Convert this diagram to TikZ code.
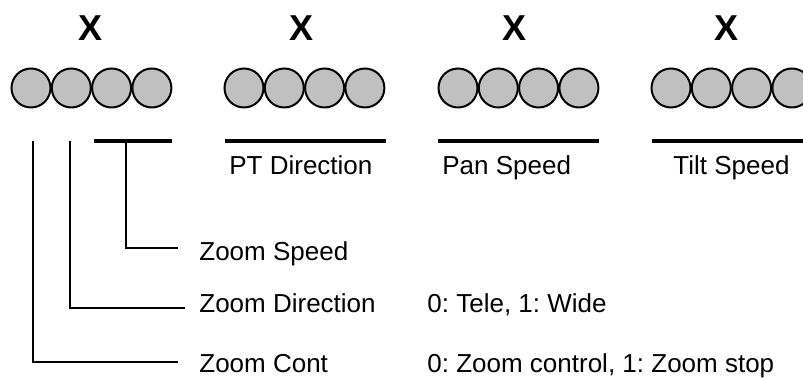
\documentclass[tikz,border=0pt]{standalone}
\usepackage{fontspec}
\setmainfont{Liberation Sans}
\usetikzlibrary{positioning}

\definecolor{bitgray}{RGB}{192,192,192}
\frenchspacing

\begin{document}
\begin{tikzpicture}[
    x=0.5pt, y=-0.5pt,
    % GLOBAL CFG
    font=\fontsize{13}{15}\selectfont,
    % Styles
    bit/.style={% For the single bits
        circle,
        draw,
        line width=1pt,
        fill=bitgray,
        minimum size=19.5pt,
        inner sep=0pt,
        },
    bytemark/.style={% The X above every byte
        font=\fontsize{18}{20}\selectfont\bfseries,
        inner sep=0pt,
        anchor=base,
        },
    mylabel/.style={% Field names and values
        inner sep=0pt,
        anchor=base west,
        },
    field/.style={% Bars under a group of bits
        line width=2pt,
        },
    lead/.style={% Leader lines down to the names
        line width=1pt,
        },
    ]

    \clip (0,0) rectangle (803,378);

%Start drawing the thing...
    % Draw the four bytes
    \foreach \g/\cx/\xx in {1/31/91, 2/244/302, 3/458/514, 4/671/726}{
        \node [bytemark] (x\g) at (\xx,41) {X};
        \foreach \b in {1,...,4}{
            \node [bit] (b\g\b) at ({\cx+40.3*(\b-1)},88) {};
        }
    }

    % Bars under the fields
    \coordinate (zsp_a) at (94,141);  \coordinate (zsp_b) at (172,141);
    \coordinate (ptd_a) at (225,141); \coordinate (ptd_b) at (386,141);
    \coordinate (pan_a) at (438,141); \coordinate (pan_b) at (599,141);
    \coordinate (tlt_a) at (652,141); \coordinate (tlt_b) at (812,141);

    \draw [field] (zsp_a) -- (zsp_b);
    \draw [field] (ptd_a) -- (ptd_b);
    \draw [field] (pan_a) -- (pan_b);
    \draw [field] (tlt_a) -- (tlt_b);

    % Field names
    \node [mylabel] (ptd) at (229,175) {PT Direction};
    \node [mylabel] (pan) at (442,175) {Pan Speed};
    \node [mylabel] (tlt) at (673,175) {Tilt Speed};

    % Zoom bits
    \node [mylabel] (zsp) at (199,261) {Zoom Speed};
    \node [mylabel] (zdir) at (199,313) {Zoom Direction};
    \node [mylabel] (zcont) at (199,373) {Zoom Cont};

    \node [mylabel] (zdir_val) at (427,313) {0: Tele, 1: Wide};
    \node [mylabel] (zcont_val) at (427,373) {0: Zoom control, 1: Zoom stop};

    % Leader lines
    \coordinate (zsp_top) at (126,141);  \coordinate (zsp_end) at (178,248);
    \coordinate (zdir_top) at (70,141);  \coordinate (zdir_end) at (185,308);
    \coordinate (zcont_top) at (33,141); \coordinate (zcont_end) at (178,362);

    \draw [lead] (zsp_top) |- (zsp_end);
    \draw [lead] (zdir_top) |- (zdir_end);
    \draw [lead] (zcont_top) |- (zcont_end);

\end{tikzpicture}
\end{document}
